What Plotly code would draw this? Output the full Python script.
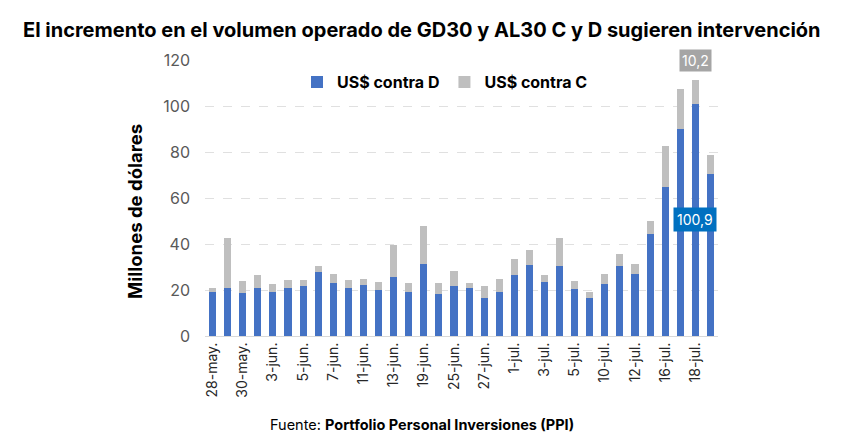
import plotly.graph_objects as go

fechas = ["28-may.", "29-may.", "30-may.", "31-may.", "3-jun.", "4-jun.", "5-jun.", "6-jun.",
          "7-jun.", "10-jun.", "11-jun.", "12-jun.", "13-jun.", "14-jun.", "19-jun.", "24-jun.",
          "25-jun.", "26-jun.", "27-jun.", "28-jun.", "1-jul.", "2-jul.", "3-jul.", "4-jul.",
          "5-jul.", "8-jul.", "10-jul.", "11-jul.", "12-jul.", "15-jul.", "16-jul.", "17-jul.",
          "18-jul.", "19-jul."]

contra_d = [19.1, 21.0, 18.8, 21.0, 19.3, 20.9, 21.9, 28.0, 23.2, 21.0, 22.2, 19.9, 25.8, 19.1,
            31.4, 18.4, 21.9, 20.9, 16.7, 19.3, 26.5, 30.9, 23.6, 30.3, 20.6, 16.7, 22.5, 30.6,
            27.1, 44.3, 65.0, 90.0, 100.9, 70.4]

contra_c = [1.8, 21.5, 5.0, 5.4, 3.5, 3.4, 2.6, 2.6, 3.6, 3.3, 2.6, 3.7, 13.8, 3.8,
            16.6, 4.8, 6.4, 2.0, 4.9, 5.5, 7.0, 6.5, 2.9, 12.2, 3.2, 2.6, 4.5, 5.2,
            4.2, 5.7, 17.5, 17.5, 10.2, 8.4]

tick_vals = fechas[::2]
y_ticks = [0, 20, 40, 60, 80, 100, 120]

BLUE = "#4472C4"
GRAY = "#BFBFBF"
FONT = "Inter"

W, H = 843, 448
PLOT_LEFT, PLOT_RIGHT = 205, 718
PLOT_TOP, PLOT_BOTTOM = 60, 336


def ypaper(px):
    return (PLOT_BOTTOM - px) / (PLOT_BOTTOM - PLOT_TOP)


def xpaper(px):
    return (px - PLOT_LEFT) / (PLOT_RIGHT - PLOT_LEFT)


fig = go.Figure()
fig.add_trace(go.Bar(x=fechas, y=contra_d, name="US$ contra D", marker_color=BLUE,
                     marker_line_width=0))
fig.add_trace(go.Bar(x=fechas, y=contra_c, name="US$ contra C", marker_color=GRAY,
                     marker_line_width=0))

hi = 32
fig.add_annotation(x=fechas[hi], y=contra_d[hi] / 2, text=f"{contra_d[hi]:.1f}".replace(".", ","),
                   showarrow=False, bgcolor="#0070C0", font=dict(family=FONT, size=14, color="white"),
                   borderpad=3)
fig.add_annotation(x=fechas[hi], y=contra_d[hi] + contra_c[hi], text=f"{contra_c[hi]:.1f}".replace(".", ","),
                   showarrow=False, yshift=8, yanchor="bottom", bgcolor="#A5A5A5",
                   font=dict(family=FONT, size=14, color="white"), borderpad=2)

fig.add_annotation(xref="paper", yref="paper", x=xpaper(W / 2), y=ypaper(30), xanchor="center",
                   yanchor="middle",
                   text="<b>El incremento en el volumen operado de GD30 y AL30 C y D sugieren intervención</b>",
                   showarrow=False, font=dict(family=FONT, size=20, color="#000000"))
fig.add_annotation(xref="paper", yref="paper", x=xpaper(W / 2), y=ypaper(425), xanchor="center",
                   yanchor="middle",
                   text="Fuente: <b>Portfolio Personal Inversiones (PPI)</b>",
                   showarrow=False, font=dict(family=FONT, size=14.5, color="#000000"))
fig.add_annotation(xref="paper", yref="paper", x=xpaper(135), y=ypaper(212), xanchor="center",
                   yanchor="middle", textangle=-90,
                   text="<b>Millones de dólares</b>",
                   showarrow=False, font=dict(family=FONT, size=18.5, color="#000000"))

fig.update_layout(
    width=W, height=H,
    barmode="stack", bargap=0.53,
    paper_bgcolor="white", plot_bgcolor="white",
    margin=dict(l=PLOT_LEFT, r=W - PLOT_RIGHT, t=PLOT_TOP, b=H - PLOT_BOTTOM),
    font=dict(family=FONT, color="#595959"),
    showlegend=True,
    legend=dict(orientation="h", x=xpaper(297), y=0.92, xanchor="left", yanchor="middle",
                font=dict(family=FONT, size=16, color="#000000", weight="bold"),
                itemwidth=30, bgcolor="rgba(0,0,0,0)", traceorder="normal"),
    xaxis=dict(type="category", tickmode="array", tickvals=tick_vals, ticktext=tick_vals,
               tickangle=-90, tickfont=dict(family=FONT, size=14, color="#262626"),
               showline=True, linecolor="#D9D9D9", linewidth=1, showgrid=False,
               ticks="", ticklen=0),
    yaxis=dict(range=[0, 120], tickvals=y_ticks, tickfont=dict(family=FONT, size=16, color="#595959"),
               showgrid=True, gridcolor="#E0E0E0", griddash="dash", gridwidth=1,
               zeroline=False, ticks="", ticklabelstandoff=14),
)

fig.write_html("out.html")
